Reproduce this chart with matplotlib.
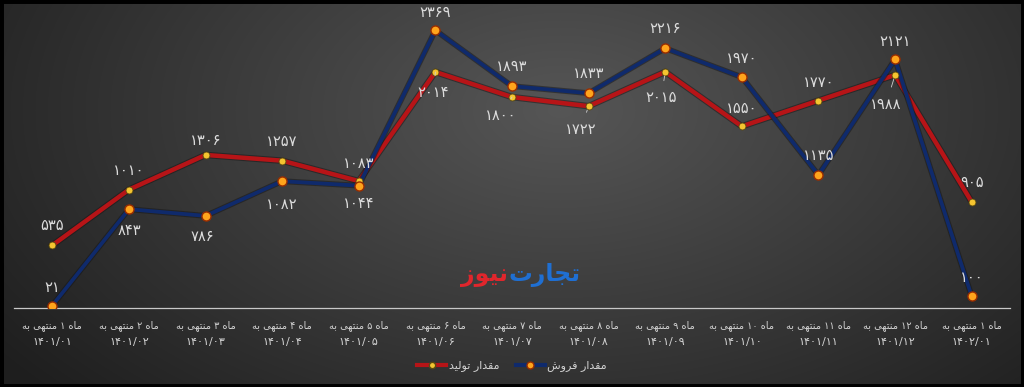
import numpy as np
import matplotlib
matplotlib.use("Agg")
from matplotlib import pyplot as plt
from matplotlib import patheffects as pe
from matplotlib import transforms as mtrans
from matplotlib.lines import Line2D
from matplotlib.patches import Rectangle

# data
month_no = [1, 2, 3, 4, 5, 6, 7, 8, 9, 10, 11, 12, 1]
period = ['1401/01', '1401/02', '1401/03', '1401/04', '1401/05', '1401/06', '1401/07',
          '1401/08', '1401/09', '1401/10', '1401/11', '1401/12', '1402/01']
production = [535, 1010, 1306, 1257, 1083, 2014, 1800, 1722, 2015, 1550, 1770, 1988, 905]
sales = [21, 843, 786, 1082, 1044, 2369, 1893, 1833, 2216, 1970, 1135, 2121, 100]
name_production = 'مقدار تولید'
name_sales = 'مقدار فروش'
cat_text = 'ماه {} منتهی به'
logo_a = 'تجارت'
logo_b = 'نیوز'

# label offsets in pixels (dx, dy) and whether a leader line is drawn
prod_off = [(0, 20), (0, 19), (0, 14), (0, 19), (0, 18), (-2, -21), (-11, -18),
            (-8, -23), (-4, -26), (0, 18), (0, 18), (-9, -29), (0, 19)]
prod_lead = [False, False, False, False, False, True, True, True, True, False, False, True, False]
sales_off = [(0, 18), (0, -21), (-3, -21), (0, -23), (0, -18), (0, 18), (0, 20),
             (0, 20), (0, 20), (0, 19), (0, 19), (0, 18), (0, 19)]

# --- minimal arabic/persian shaping (matplotlib has no text shaping) ---
FORMS = {
    'ا': ('\uFE8D', '\uFE8E', None, None),
    'ب': ('\uFE8F', '\uFE90', '\uFE91', '\uFE92'),
    'ت': ('\uFE95', '\uFE96', '\uFE97', '\uFE98'),
    'ج': ('\uFE9D', '\uFE9E', '\uFE9F', '\uFEA0'),
    'د': ('\uFEA9', '\uFEAA', None, None),
    'ر': ('\uFEAD', '\uFEAE', None, None),
    'ز': ('\uFEAF', '\uFEB0', None, None),
    'ش': ('\uFEB5', '\uFEB6', '\uFEB7', '\uFEB8'),
    'ف': ('\uFED1', '\uFED2', '\uFED3', '\uFED4'),
    'ق': ('\uFED5', '\uFED6', '\uFED7', '\uFED8'),
    'ل': ('\uFEDD', '\uFEDE', '\uFEDF', '\uFEE0'),
    'م': ('\uFEE1', '\uFEE2', '\uFEE3', '\uFEE4'),
    'ن': ('\uFEE5', '\uFEE6', '\uFEE7', '\uFEE8'),
    'ه': ('\uFEE9', '\uFEEA', '\uFEEB', '\uFEEC'),
    'و': ('\uFEED', '\uFEEE', None, None),
    'ی': ('\uFEEF', '\uFEF0', '\uFEF3', '\uFEF4'),
}
FA_DIGITS = str.maketrans('0123456789', '۰۱۲۳۴۵۶۷۸۹')


def shape_word(w):
    out = []
    for i, c in enumerate(w):
        if c not in FORMS:
            out.append(c)
            continue
        p = i > 0 and w[i - 1] in FORMS and FORMS[w[i - 1]][2] is not None
        n = i < len(w) - 1 and w[i + 1] in FORMS and FORMS[c][2] is not None
        idx = 3 if (p and n) else 1 if p else 2 if n else 0
        out.append(FORMS[c][idx])
    return ''.join(out[::-1])


def rtl(s):
    toks = []
    for t in s.split(' '):
        if any(ch in FORMS for ch in t):
            toks.append(shape_word(t))
        else:
            toks.append(t)
    return ' '.join(toks[::-1])


def fa(x):
    return str(x).translate(FA_DIGITS)


#%%
plt.rcParams['font.family'] = ['DejaVu Sans']
W, H = 1024, 387
fig = plt.figure(figsize=(W / 100, H / 100), dpi=100)

# background gradient
bg = fig.add_axes([0, 0, 1, 1], zorder=0)
yy, xx = np.mgrid[0:H, 0:W]
d = np.sqrt(((xx - 560) / 700.0) ** 2 + ((yy - 110) / 420.0) ** 2)
v = (0x56 - (0x56 - 0x1e) * np.clip(d, 0, 1)) / 255.0
bg.imshow(np.dstack([v, v, v]), aspect='auto', extent=[0, 1, 0, 1])
bg.set_axis_off()
fig.patches.append(Rectangle((0, 0), 1, 1, transform=fig.transFigure, fill=False,
                             edgecolor='black', linewidth=5, zorder=10))

ax = fig.add_axes([14 / W, 1 - 308 / H, 996 / W, 293 / H], zorder=1)
ax.patch.set_alpha(0)
x = np.arange(len(production))

red, blue = '#b71417', '#0f2a6c'
shadow = lambda w: [pe.Stroke(linewidth=w + 1.5, foreground='#151515', alpha=0.5), pe.Normal()]
ax.plot(x, production, color=red, lw=3.2, zorder=2, solid_joinstyle='round',
        path_effects=shadow(3.2))
ax.plot(x, sales, color=blue, lw=2.7, zorder=3, solid_joinstyle='round',
        path_effects=shadow(2.7))
ax.plot(x, production, ls='none', marker='o', ms=5, mfc='#f5c430', mec='#5a4a10',
        mew=0.6, zorder=4)
ax.plot(x, sales, ls='none', marker='o', ms=6.5, mfc='#ffa41c', mec='#9a2d00',
        mew=1.0, zorder=5)

lab = dict(color='#dcdcdc', fontsize=10.5, ha='center', va='center',
           textcoords='offset pixels', zorder=6)
for i, val in enumerate(production):
    dx, dy = prod_off[i]
    arrow = dict(arrowstyle='-', color='#cfcfcf', lw=0.6, shrinkA=5, shrinkB=3) if prod_lead[i] else None
    ax.annotate(fa(val), (x[i], val), xytext=(dx, dy), arrowprops=arrow, **lab)
for i, val in enumerate(sales):
    dx, dy = sales_off[i]
    ax.annotate(fa(val), (x[i], val), xytext=(dx, dy), **lab)

ax.set_xlim(-0.5, len(x) - 0.5)
ax.set_ylim(0, 2500)
ax.set_xticks(x)
ax.set_xticklabels([])
ax.tick_params(axis='x', length=0)
ax.set_yticks([])
for s in ['top', 'left', 'right']:
    ax.spines[s].set_visible(False)
ax.spines['bottom'].set_color('#c8c8c8')
ax.spines['bottom'].set_linewidth(0.9)

# category labels: two rows
tr = mtrans.blended_transform_factory(ax.transData, fig.transFigure)
for i, (m, p) in enumerate(zip(month_no, period)):
    ax.text(x[i], 1 - 326 / H, rtl(cat_text.format(fa(m))), transform=tr, ha='center',
            va='center', fontsize=7.0, color='#d2d2d2')
    ax.text(x[i], 1 - 342 / H, fa(p), transform=tr, ha='center', va='center',
            fontsize=8.0, color='#d2d2d2')

# logo
fig.text(508 / W, 1 - 275 / H, rtl(logo_b), color='#e0262c', fontsize=17, fontweight='bold',
         ha='right', va='center', zorder=6)
fig.text(508 / W, 1 - 275 / H, rtl(logo_a), color='#1f6fd2', fontsize=17, fontweight='bold',
         ha='left', va='center', zorder=6)

handles = [Line2D([], [], color=red, lw=3, marker='o', ms=4.5, mfc='#f5c430', mec='#5a4a10'),
           Line2D([], [], color=blue, lw=3, marker='o', ms=5, mfc='#ffa41c', mec='#9a2d00')]
leg = fig.legend(handles, [rtl(name_production), rtl(name_sales)], loc='center',
                 bbox_to_anchor=(512 / W, 1 - 366 / H), ncol=2, frameon=False,
                 fontsize=8.0, handlelength=2.6, columnspacing=1.5, handletextpad=0.2)
for t in leg.get_texts():
    t.set_color('#d2d2d2')

fig.savefig('out.png', dpi=100)
